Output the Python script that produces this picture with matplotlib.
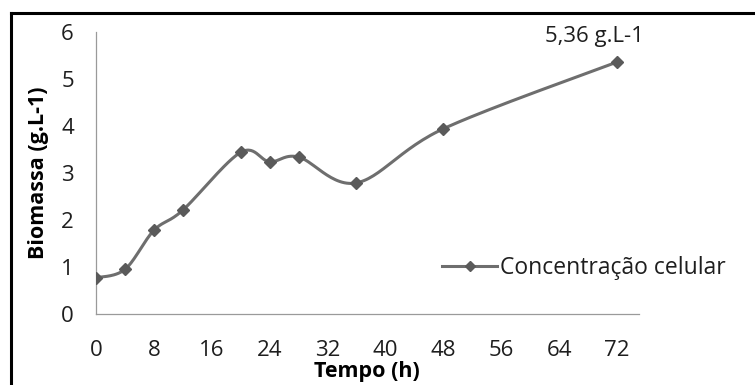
import numpy as np
import matplotlib.pyplot as plt
from matplotlib.lines import Line2D

# dados
tempo = [0, 4, 8, 12, 20, 24, 28, 36, 48, 72]
biomassa = [0.77, 0.95, 1.78, 2.21, 3.44, 3.24, 3.34, 2.79, 3.94, 5.36]
x_ticks = [0, 8, 16, 24, 32, 40, 48, 56, 64, 72]
y_ticks = [0, 1, 2, 3, 4, 5, 6]


def smooth(xs, ys, n=30):
    # linha suavizada estilo Excel (Catmull-Rom -> Bezier)
    p = np.column_stack([xs, ys]).astype(float)
    pts = np.vstack([p[0], p, p[-1]])
    out = []
    t = np.linspace(0, 1, n)[:, None]
    for i in range(1, len(pts) - 2):
        p0, p1, p2, p3 = pts[i - 1], pts[i], pts[i + 1], pts[i + 2]
        c1 = p1 + (p2 - p0) / 6
        c2 = p2 - (p3 - p1) / 6
        seg = ((1 - t) ** 3) * p1 + 3 * ((1 - t) ** 2) * t * c1 + 3 * (1 - t) * t ** 2 * c2 + t ** 3 * p2
        out.append(seg)
    s = np.vstack(out)
    return s[:, 0], s[:, 1]


plt.rcParams['font.family'] = ['Open Sans', 'DejaVu Sans']

fig = plt.figure(figsize=(7.55, 3.85), dpi=100)
ax = fig.add_axes([0.1272, 0.1844, 0.8458 - 0.1272, 0.9169 - 0.1844])

line_col = '#6e6e6e'
mk_col = '#5a5a5a'
txt_col = '#1e1e1e'

sx, sy = smooth(tempo, biomassa)
ax.plot(sx, sy, color=line_col, lw=2.2, solid_capstyle='round', zorder=2)
ax.plot(tempo, biomassa, 'D', color=mk_col, ms=6.5, zorder=3)

ax.set_xlim(0, 75)
ax.set_ylim(0, 6)
ax.set_xticks(x_ticks)
ax.set_yticks(y_ticks)
ax.tick_params(length=0, labelsize=16, colors=txt_col)
ax.tick_params(axis='x', pad=19)
ax.tick_params(axis='y', pad=16)

for s in ['top', 'right']:
    ax.spines[s].set_visible(False)
for s in ['left', 'bottom']:
    ax.spines[s].set_color('#9a9a9a')
    ax.spines[s].set_linewidth(0.9)

ax.set_xlabel('Tempo (h)', fontsize=15.5, fontweight='bold', color='black')
ax.set_ylabel('Biomassa (g.L-1)', fontsize=15.5, fontweight='bold', color='black')
ax.xaxis.set_label_coords(0.5, -0.165)
ax.yaxis.set_label_coords(-0.086, 0.5)

ax.annotate('5,36 g.L-1', (tempo[-1], biomassa[-1]), xytext=(-22, 15),
            textcoords='offset pixels', ha='center', va='bottom', fontsize=16,
            color=txt_col)

handle = Line2D([], [], color=line_col, lw=2.2, marker='D', ms=5.5,
                markerfacecolor=mk_col, markeredgecolor=mk_col)
ax.legend([handle], ['Concentração celular'], frameon=False, fontsize=16.5,
          loc='center left', bbox_to_anchor=(442 / 755, 1 - 268 / 385),
          bbox_transform=fig.transFigure, borderaxespad=0, borderpad=0,
          handlelength=2.4, handletextpad=0.15, labelcolor=txt_col)

# moldura parcial (topo e esquerda)
fig.add_artist(Line2D([11 / 755, 11 / 755], [0, 1 - 13 / 385], color='black', lw=2.2,
                      transform=fig.transFigure))
fig.add_artist(Line2D([11 / 755, 1], [1 - 13 / 385, 1 - 13 / 385], color='black', lw=2.2,
                      transform=fig.transFigure))

fig.savefig('out.png', dpi=100)
